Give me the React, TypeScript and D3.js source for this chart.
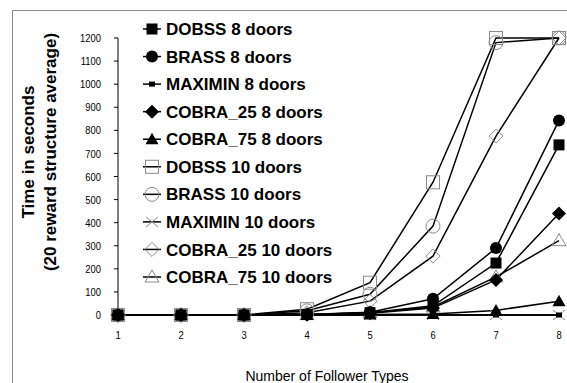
import React from 'react';
import * as d3 from 'd3';

const followerTypes = [1, 2, 3, 4, 5, 6, 7, 8];
const yTicks = [0, 100, 200, 300, 400, 500, 600, 700, 800, 900, 1000, 1100, 1200];

const dobss8 = [0, 0, 0, 2, 10, 40, 225, 737];
const brass8 = [0, 0, 0, 2, 12, 70, 290, 843];
const maximin8 = [0, 0, 0, 0, 0, 0, 0, 0];
const cobra25_8 = [0, 0, 0, 1, 8, 30, 152, 440];
const cobra75_8 = [0, 0, 0, 0, 2, 4, 20, 60];
const dobss10 = [0, 0, 0, 25, 140, 575, 1200, 1200];
const brass10 = [0, 0, 0, 18, 90, 385, 1180, 1200];
const maximin10 = [0, 0, 0, 0, 0, 0, 0, 0];
const cobra25_10 = [0, 0, 0, 10, 60, 255, 775, 1200];
const cobra75_10 = [0, 0, 0, 2, 10, 35, 165, 322];

type Marker = 'square' | 'circle' | 'dash' | 'diamond' | 'triangle' | 'osquare' | 'ocircle' | 'cross' | 'odiamond' | 'otriangle';

const series: { name: string; values: number[]; marker: Marker }[] = [
  { name: 'DOBSS 8 doors', values: dobss8, marker: 'square' },
  { name: 'BRASS 8 doors', values: brass8, marker: 'circle' },
  { name: 'MAXIMIN 8 doors', values: maximin8, marker: 'dash' },
  { name: 'COBRA_25 8 doors', values: cobra25_8, marker: 'diamond' },
  { name: 'COBRA_75 8 doors', values: cobra75_8, marker: 'triangle' },
  { name: 'DOBSS 10 doors', values: dobss10, marker: 'osquare' },
  { name: 'BRASS 10 doors', values: brass10, marker: 'ocircle' },
  { name: 'MAXIMIN 10 doors', values: maximin10, marker: 'cross' },
  { name: 'COBRA_25 10 doors', values: cobra25_10, marker: 'odiamond' },
  { name: 'COBRA_75 10 doors', values: cobra75_10, marker: 'otriangle' },
];

const W = 567;
const H = 383;
const font = 'Liberation Sans, Arial, sans-serif';
const gray = '#8a8a8a';

function MarkerShape({ type, x, y }: { type: Marker; x: number; y: number }) {
  switch (type) {
    case 'square':
      return <rect x={x - 5.5} y={y - 5.5} width={11} height={11} fill="#000" />;
    case 'circle':
      return <circle cx={x} cy={y} r={6} fill="#000" />;
    case 'dash':
      return <rect x={x - 3} y={y - 2.5} width={6} height={5} fill="#000" />;
    case 'diamond':
      return <path d={`M${x},${y - 7}L${x + 7},${y}L${x},${y + 7}L${x - 7},${y}Z`} fill="#000" />;
    case 'triangle':
      return <path d={`M${x},${y - 6.5}L${x + 6.5},${y + 5}L${x - 6.5},${y + 5}Z`} fill="#000" />;
    case 'osquare':
      return <rect x={x - 6.5} y={y - 6.5} width={13} height={13} fill="none" stroke={gray} strokeWidth={1} />;
    case 'ocircle':
      return <circle cx={x} cy={y} r={7} fill="none" stroke={gray} strokeWidth={1} />;
    case 'cross':
      return (
        <path d={`M${x - 6},${y - 5}L${x + 6},${y + 5}M${x - 6},${y + 5}L${x + 6},${y - 5}`} stroke={gray} strokeWidth={1} />
      );
    case 'odiamond':
      return <path d={`M${x},${y - 7}L${x + 7},${y}L${x},${y + 7}L${x - 7},${y}Z`} fill="none" stroke={gray} strokeWidth={1} />;
    case 'otriangle':
      return <path d={`M${x},${y - 7}L${x + 7},${y + 5}L${x - 7},${y + 5}Z`} fill="none" stroke={gray} strokeWidth={1} />;
  }
}

export default function App() {
  const x = d3.scaleLinear().domain([1, 8]).range([118, 559]);
  const y = d3.scaleLinear().domain([0, 1200]).range([315, 38]);

  const line = d3
    .line<number>()
    .x((_, i) => x(followerTypes[i]))
    .y((d) => y(d));

  const legendY = d3.scalePoint<number>().domain(d3.range(series.length)).range([29, 277]);

  return (
    <div style={{ position: 'fixed', left: 0, top: 0 }}>
      <svg width={W} height={H} style={{ display: 'block', background: '#fff' }}>
        {/* frame */}
        <path d={`M12.5,${H}V10.5H${W}`} fill="none" stroke={gray} strokeWidth={1} />

        {/* axes */}
        <line x1={118} x2={118} y1={y(1200)} y2={y(0)} stroke="#000" strokeWidth={1} />
        <line x1={118} x2={559} y1={y(0)} y2={y(0)} stroke="#000" strokeWidth={1} />
        {yTicks.map((t) => (
          <g key={t}>
            <line x1={114} x2={118} y1={y(t)} y2={y(t)} stroke="#000" />
            <text
              transform={`translate(101,${y(t)}) scale(0.82,1)`}
              dy="0.36em"
              textAnchor="end"
              fontFamily={font}
              fontSize={11.5}
            >
              {t}
            </text>
          </g>
        ))}
        {followerTypes.map((f) => (
          <text
            key={f}
            transform={`translate(${x(f)},339) scale(0.82,1)`}
            textAnchor="middle"
            fontFamily={font}
            fontSize={11.5}
          >
            {f}
          </text>
        ))}

        <text x={327} y={381} textAnchor="middle" fontFamily={font} fontSize={14}>
          Number of Follower Types
        </text>
        <g transform="translate(34,152) rotate(-90)">
          <text x={0} y={0} textAnchor="middle" fontFamily={font} fontSize={17} fontWeight="bold">
            Time in seconds
          </text>
          <text x={0} y={22} textAnchor="middle" fontFamily={font} fontSize={17} fontWeight="bold">
            (20 reward structure average)
          </text>
        </g>

        {/* series lines, drawn in reverse so 8-door lines sit on top */}
        {[...series].reverse().map((s) => (
          <path key={s.name} d={line(s.values) || ''} fill="none" stroke="#000" strokeWidth={1.5} />
        ))}
        {[...series].reverse().map((s) => (
          <g key={s.name + 'm'}>
            {s.values.map((v, i) => (
              <MarkerShape key={i} type={s.marker} x={x(followerTypes[i])} y={y(v)} />
            ))}
          </g>
        ))}

        {/* legend */}
        {series.map((s, i) => {
          const ly = legendY(i) as number;
          return (
            <g key={s.name + 'l'}>
              <line x1={143} x2={161} y1={ly} y2={ly} stroke="#000" strokeWidth={1.5} />
              <MarkerShape type={s.marker} x={152} y={ly} />
              <text x={166} y={ly} dy="0.36em" fontFamily={font} fontSize={17} fontWeight="bold">
                {s.name}
              </text>
            </g>
          );
        })}
      </svg>
    </div>
  );
}
